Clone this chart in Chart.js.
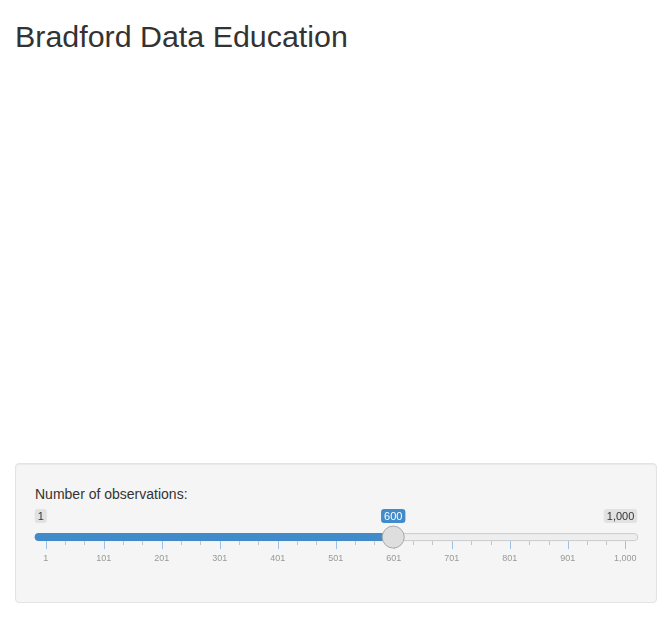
<!DOCTYPE html>
<html>
<head>
<meta charset="utf-8">
<script src="https://cdn.jsdelivr.net/npm/chart.js@4"></script>
<style>
    body { margin: 0; background: #fff; font-family: "Liberation Sans", Arial, sans-serif; color: #333; }
    h2 { position: absolute; left: 15px; top: 20px; margin: 0; font-size: 30.4px; font-weight: normal; line-height: 33px; }
    .well { position: absolute; left: 15px; top: 463px; width: 640px; height: 138px; background: #f5f5f5; border: 1px solid #e3e3e3; border-radius: 4px; box-shadow: inset 0 1px 1px rgba(0,0,0,.05); }
    .well label { position: absolute; left: 19px; top: 22px; font-size: 14px; }
    #slider { position: absolute; left: 0; top: 500px; }
</style>
</head>
<body>
<h2>Bradford Data Education</h2>
<div class="well"><label>Number of observations:</label></div>
<canvas id="slider" width="672" height="70"></canvas>
<script>
// slider values
const sliderMin = 1
const sliderMax = 1000
const sliderValue = 600

// grid ticks under the track
const majorTicks = [1, 101, 201, 301, 401, 501, 601, 701, 801, 901, 1000]
const tickLabels = ['1', '101', '201', '301', '401', '501', '601', '701', '801', '901', '1,000']
const minorPerGap = 3

function labelBox(ctx, text, cx, cy, align, bg, fg) {
    ctx.font = '11px "Liberation Sans", Arial, sans-serif'
    let w = ctx.measureText(text).width + 6
    let left = align === 'left' ? cx : align === 'right' ? cx - w : cx - w / 2
    ctx.fillStyle = bg
    ctx.beginPath()
    ctx.roundRect(left, cy - 7, w, 14, 3)
    ctx.fill()
    ctx.fillStyle = fg
    ctx.textAlign = 'center'
    ctx.textBaseline = 'middle'
    ctx.fillText(text, left + w / 2, cy + 0.5)
}

const sliderPlugin = {
    id: 'sliderPlugin',
    beforeDatasetsDraw(chart) {
        const ctx = chart.ctx
        const x = chart.scales.x
        const cy = chart.scales.y.getPixelForValue(0)
        const left = x.getPixelForValue(sliderMin) - 11
        const right = x.getPixelForValue(sliderMax) + 12
        const pos = x.getPixelForValue(sliderValue)

        ctx.save()
        // track
        ctx.fillStyle = '#eeeeee'
        ctx.strokeStyle = '#cccccc'
        ctx.lineWidth = 1
        ctx.beginPath()
        ctx.roundRect(left + 0.5, cy - 3.5, right - left, 7, 4)
        ctx.fill()
        ctx.stroke()
        // filled part
        ctx.fillStyle = '#428bca'
        ctx.beginPath()
        ctx.roundRect(left, cy - 4, pos - left, 8, [4, 0, 0, 4])
        ctx.fill()

        // grid ticks
        for (let i = 0; i < majorTicks.length; i++) {
            let px = Math.round(x.getPixelForValue(majorTicks[i])) + 0.5
            ctx.strokeStyle = '#9fc3e6'
            ctx.beginPath()
            ctx.moveTo(px, cy + 4)
            ctx.lineTo(px, cy + 12)
            ctx.stroke()
            if (i < majorTicks.length - 1) {
                let step = (majorTicks[i + 1] - majorTicks[i]) / minorPerGap
                for (let k = 1; k < minorPerGap; k++) {
                    let mx = Math.round(x.getPixelForValue(majorTicks[i] + step * k)) + 0.5
                    ctx.strokeStyle = '#c4c4c4'
                    ctx.beginPath()
                    ctx.moveTo(mx, cy + 4)
                    ctx.lineTo(mx, cy + 8)
                    ctx.stroke()
                }
            }
        }
        ctx.restore()
    },
    afterDatasetsDraw(chart) {
        const ctx = chart.ctx
        const x = chart.scales.x
        const cy = chart.scales.y.getPixelForValue(0)
        const left = x.getPixelForValue(sliderMin) - 11
        const right = x.getPixelForValue(sliderMax) + 12
        ctx.save()
        labelBox(ctx, sliderMin.toLocaleString('en-US'), left, cy - 21, 'left', '#e2e2e2', '#333333')
        labelBox(ctx, sliderMax.toLocaleString('en-US'), right, cy - 21, 'right', '#e2e2e2', '#333333')
        labelBox(ctx, sliderValue.toLocaleString('en-US'), x.getPixelForValue(sliderValue), cy - 21, 'center', '#428bca', '#ffffff')
        ctx.restore()
    }
}

document.addEventListener('DOMContentLoaded', function() {
    let sliderChart = new Chart(document.getElementById('slider'), {
        type: 'scatter',
        data: {
            datasets: [{
                label: 'handle',
                data: [{ x: sliderValue, y: 0 }],
                pointRadius: 11,
                pointHoverRadius: 11,
                backgroundColor: '#dedede',
                borderColor: '#a9a9a9',
                borderWidth: 1
            }]
        },
        plugins: [sliderPlugin],
        options: {
            responsive: false,
            animation: false,
            layout: { padding: { left: 45.7, right: 46.7, top: 25, bottom: 2 } },
            plugins: { legend: { display: false }, tooltip: { enabled: false } },
            scales: {
                x: {
                    type: 'linear',
                    min: sliderMin,
                    max: sliderMax,
                    afterBuildTicks: scale => { scale.ticks = majorTicks.map(v => ({ value: v })) },
                    ticks: {
                        callback: (val, i) => tickLabels[i],
                        color: '#999999',
                        padding: 4,
                        maxRotation: 0,
                        autoSkip: false,
                        font: { size: 9, family: '"Liberation Sans", Arial, sans-serif' }
                    },
                    grid: { display: false, drawTicks: false },
                    border: { display: false }
                },
                y: { display: false, min: -1, max: 1 }
            }
        }
    })
})
</script>
</body>
</html>
